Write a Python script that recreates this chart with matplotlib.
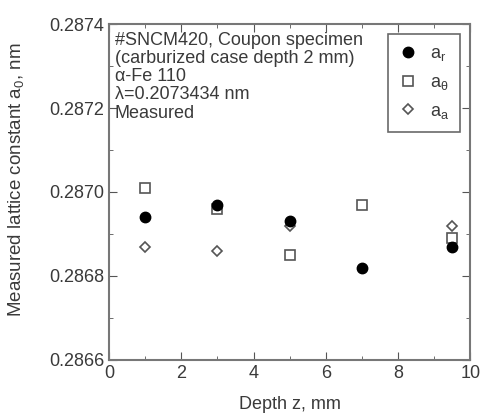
import matplotlib.pyplot as plt
from matplotlib.ticker import MultipleLocator

plt.rcParams['font.family'] = ['Liberation Sans', 'DejaVu Sans']
plt.rcParams['mathtext.default'] = 'regular'

depth = [1, 3, 5, 7, 9.5]
a_r = [0.28694, 0.28697, 0.28693, 0.28682, 0.28687]
a_theta = [0.28701, 0.28696, 0.28685, 0.28697, 0.28689]
a_depth_s = [1, 3, 5, 9.5]
a_s = [0.28687, 0.28686, 0.28692, 0.28692]

gray = '#555555'
txt = '#3a3a3a'
fig = plt.figure(figsize=(4.84, 4.16), dpi=100)
ax = fig.add_axes([0.225, 0.135, 0.747, 0.807])

ax.plot(depth, a_r, 'o', color='black', ms=7.5, zorder=4, label='a$_r$')
ax.plot(depth, a_theta, 's', mfc='white', mec=gray, mew=1.2, ms=7.5, zorder=3,
        label=r'a$_\theta$')
ax.plot(a_depth_s, a_s, 'D', mfc='white', mec=gray, mew=1.2, ms=5.5, zorder=3,
        label='a$_a$')

ax.set_xlim(0, 10)
ax.set_ylim(0.2866, 0.2874)
ax.xaxis.set_major_locator(MultipleLocator(2))
ax.xaxis.set_minor_locator(MultipleLocator(1))
ax.yaxis.set_major_locator(MultipleLocator(0.0002))
ax.yaxis.set_minor_locator(MultipleLocator(0.0001))
ax.yaxis.set_major_formatter(plt.FormatStrFormatter('%.4f'))
ax.tick_params(which='both', direction='in', top=True, right=True, colors=gray,
               labelcolor=txt, labelsize=13)
ax.tick_params(which='major', length=6)
ax.tick_params(which='minor', length=3)
for s in ax.spines.values():
    s.set_color('#777777')
    s.set_linewidth(1.5)

ax.set_xlabel('Depth z, mm', fontsize=13, color=txt)
ax.xaxis.set_label_coords(0.5, -0.108)
ax.set_ylabel('Measured lattice constant a$_0$, nm', fontsize=13.5, color=txt)
ax.yaxis.set_label_coords(-0.228, 0.536)

ax.text(0.016, 0.978,
        '#SNCM420, Coupon specimen\n(carburized case depth 2 mm)\n'
        '\u03b1-Fe 110\n\u03bb=0.2073434 nm\nMeasured',
        transform=ax.transAxes, va='top', ha='left', fontsize=13,
        color=txt, linespacing=1.1)

leg = ax.legend(loc='upper right', bbox_to_anchor=(0.97, 0.970), borderaxespad=0,
                fontsize=13, frameon=True, fancybox=False, edgecolor='#444444',
                handlelength=1.0, handletextpad=0.7, borderpad=0.6, labelspacing=0.6)
leg.get_frame().set_linewidth(1.2)
for t in leg.get_texts():
    t.set_color(txt)

fig.savefig('out.png', dpi=100)
